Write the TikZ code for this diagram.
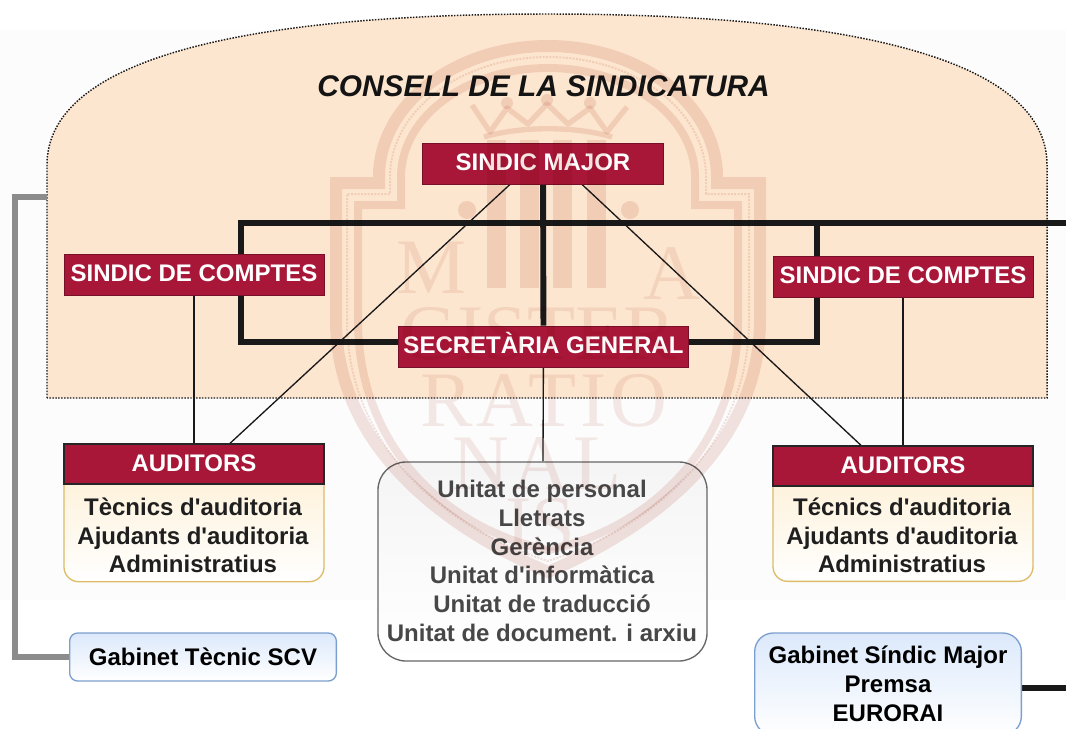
\documentclass[tikz,border=0pt]{standalone}
\usepackage{fontspec}
\setmainfont[Ligatures=TeXOff]{Liberation Sans}
\newfontfamily\sealfont{Liberation Serif}
\usetikzlibrary{backgrounds}
\definecolor{peach}{HTML}{FDE6CF}
\definecolor{wine}{HTML}{A81638}
\definecolor{sealtint}{HTML}{F4E4E1}
\definecolor{sealtext}{HTML}{F6EAE8}
\definecolor{cream}{HTML}{FDF0D6}
\definecolor{creamline}{HTML}{DDBB68}
\definecolor{skyfill}{HTML}{DCE9FB}
\definecolor{skyline}{HTML}{7C9FCF}
\newcommand{\sealline}[1]{
  ({330+#1},320) -- ({330+#1},{177+#1}) -- ({373+#1},{177+#1}) -- ({373+#1},177)
  .. controls ({373+#1},{177-.5523*(137-#1)}) and ({548-.5523*(175-#1)},{40+#1}) .. (548,{40+#1})
  .. controls ({548+.5523*(175-#1)},{40+#1}) and ({723-#1},{177-.5523*(137-#1)}) .. ({723-#1},177)
  -- ({723-#1},{177+#1}) -- ({766-#1},{177+#1}) -- ({766-#1},320)
  .. controls ({766-#1},450) and (646,530) .. (548,{578-#1})
  .. controls (450,530) and ({330+#1},450) .. cycle
}

\begin{document}
\begin{tikzpicture}[
      x=0.75pt,y=-0.75pt,
      font=\fontsize{18}{21.6}\selectfont\bfseries,
      redbox/.style={fill=wine,draw=wine!70!black,line width=0.6pt,text=white,inner sep=0pt,minimum height=30.75pt,text height=13pt,text depth=3pt},
      headbox/.style={fill=wine,draw=black!85,line width=1pt,text=white,inner sep=0pt,minimum width=195pt,minimum height=30pt,text height=13pt,text depth=1.5pt},
      panel/.style={shading=axis,top color=#1,bottom color=white,shading angle=0,rounded corners=11pt,inner sep=0pt},
      listtext/.style={align=center,inner sep=0pt,text=black!88},
      thickline/.style={line width=4.4pt,black!90},
      thinline/.style={line width=1pt,black!90},
      grayline/.style={line width=3.8pt,black!45,line join=miter},
      sealband/.style={draw=sealtint,line width=#1},
      sealword/.style={font=\sealfont\fontsize{59}{59}\selectfont,text=sealtext,inner sep=0pt}
    ]
    \useasboundingbox (0,0) rectangle (1066,728);
    \clip (0,0) rectangle (1066,728);
    % Draw the boxes.
    \node[redbox,minimum width=181pt] (major) at (543,163.5) {SINDIC MAJOR};
    \node[redbox,minimum width=195pt] (sindicleft) at (194,274.5) {SINDIC DE COMPTES};
    \node[redbox,minimum width=195pt] (sindicright) at (903,276.5) {SINDIC DE COMPTES};
    \node[redbox,minimum width=218pt] (secretaria) at (543.5,346.5) {SECRETÀRIA GENERAL};
    % Left auditors.
    \node[panel=cream,draw=creamline,line width=1pt,minimum width=195pt,minimum height=88pt] (panelleft) at (194,523) {};
    \node[headbox] (audleft) at (194,464) {AUDITORS};
    \node[listtext] (listleft) at (193,535.5) {Tècnics d'auditoria\\Ajudants d'auditoria\\Administratius};
    % Right auditors.
    \node[panel=cream,draw=creamline,line width=1pt,minimum width=195pt,minimum height=86pt] (panelright) at (903,524) {};
    \node[headbox] (audright) at (903,466) {AUDITORS};
    \node[listtext] (listright) at (902,535.5) {Técnics d'auditoria\\Ajudants d'auditoria\\Administratius};
    % Units and cabinets.
    \node[panel=black!4,draw=black!60,rounded corners=21pt,line width=1pt,minimum width=246.75pt,minimum height=149.25pt] (unitats) at (542.5,561.5) {};
    \node[listtext,text=black!72] (llistaunitats) at (542,561) {Unitat de personal\\Lletrats\\Gerència\\Unitat d'informàtica\\Unitat de traducció\\Unitat de document. i arxiu};
    \node[panel=skyfill,draw=skyline,rounded corners=6pt,line width=1pt,minimum width=200pt,minimum height=36pt] (tecnic) at (203,657) {Gabinet Tècnic SCV};
    \node[panel=skyfill,draw=skyline,rounded corners=14pt,line width=1pt,minimum width=200pt,minimum height=76.5pt,align=center] (gabmajor) at (888,684) {Gabinet Síndic Major\\Premsa\\EURORAI};
    % Free ends of the connectors.
    \coordinate (archedge) at (47,197);
    \coordinate (grayleft) at (15,197);
    \coordinate (cornerleft) at (241,223);
    \coordinate (cornerright) at (817,223);
    \coordinate (edgeright) at (1066,223);
    \coordinate (edgeout) at (1066,688);
    \begin{scope}[on background layer]
      \fill[black!1] (0,30) rectangle (1066,600);
      % Draw the council shape.
      \fill[peach] (47,398) -- (47,165)
        .. controls (47,60) and (240,14) .. (547,14)
        .. controls (854,14) and (1047,60) .. (1047,165) -- (1047,398) -- cycle;
      \draw[black!90,line width=1.1pt,dash pattern=on 1.1pt off 1.1pt] (47,398) -- (47,165)
        .. controls (47,60) and (240,14) .. (547,14)
        .. controls (854,14) and (1047,60) .. (1047,165) -- (1047,398) -- cycle;
      \node[font=\fontsize{22.4}{24}\selectfont\bfseries\itshape,text=black!92,inner sep=0pt] (titol) at (543.5,86) {CONSELL DE LA SINDICATURA};
      % Draw the connectors.
      \draw[grayline] (archedge) -- (grayleft) |- (tecnic.west);
      \draw[thickline] (major) -- (secretaria);
      \draw[thickline] ([yshift=3.4pt]secretaria.west) -| (cornerleft) -- (edgeright);
      \draw[thickline] ([yshift=3.4pt]secretaria.east) -| (cornerright);
      \draw[thickline] ([yshift=-3pt]gabmajor.east) -- (edgeout);
      \draw[thinline] (sindicleft) -- (audleft);
      \draw[thinline] (sindicright) -- (audright);
      \draw[thinline] (secretaria) -- (unitats);
      \draw[thinline] ([xshift=-24.75pt]major.south) -- ([xshift=27pt]audleft.north);
      \draw[thinline] ([xshift=29.25pt]major.south) -- ([xshift=-31.5pt]audright.north);
    \end{scope}
    % Draw the seal over everything.
    \begin{scope}[blend mode=multiply]
      \draw[sealband=9pt] \sealline{6};
      \draw[sealband=1.5pt,densely dotted] \sealline{17};
      \draw[sealband=6pt] \sealline{28};
      % Crown.
      \draw[sealband=4pt,line join=round] (472,105) -- (490,132) -- (507,108) -- (528,124) -- (547,104) -- (568,124) -- (590,108) -- (607,132) -- (627,107);
      \draw[sealband=4pt] (484,137) .. controls (520,126) and (576,126) .. (612,137);
      \fill[sealtint] (507,103) circle (6) (547,100) circle (6) (590,103) circle (6);
      % Shield.
      \foreach \barx in {487,520,553,587} {
        \fill[sealtint] (\barx,140) rectangle (\barx+19,288);
      }
      \fill[sealtint] (467,210) circle (9) (630,210) circle (9);
      % Letters.
      \node[sealword] (letterm) at (431,268) {M};
      \node[sealword] (lettera) at (672,274) {A};
      \node[sealword] (wordgister) at (538,334) {GISTER};
      \node[sealword] (wordratio) at (544,401) {\addfontfeature{LetterSpace=5}RATIO};
      \node[sealword] (wordnal) at (537,464) {\addfontfeature{LetterSpace=5}NAL};
      \node[sealword] (wordis) at (540,525) {IS};
    \end{scope}
    \end{tikzpicture}
\end{document}
